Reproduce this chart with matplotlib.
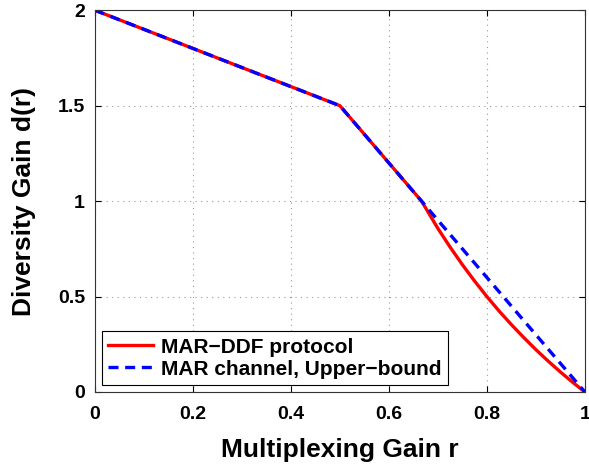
import numpy as np
import matplotlib.pyplot as plt

plt.rcParams['font.family'] = ['Liberation Sans', 'DejaVu Sans']
plt.rcParams['font.weight'] = 'bold'

# values
r_ddf = [0.0, 0.5, 0.6667, 0.70, 0.725, 0.75, 0.775, 0.80, 0.825, 0.85,
         0.875, 0.90, 0.925, 0.95, 0.975, 1.0]
d_ddf = [2.0, 1.5, 1.0, 0.857, 0.759, 0.667, 0.581, 0.5, 0.424, 0.353,
         0.286, 0.222, 0.162, 0.105, 0.051, 0.0]

r_upper = [0.0, 0.5, 0.6667, 1.0]
d_upper = [2.0, 1.5, 1.0, 0.0]

x_ticks = [0, 0.2, 0.4, 0.6, 0.8, 1]
x_ticklabels = ["0", "0.2", "0.4", "0.6", "0.8", "1"]
y_ticks = [0, 0.5, 1, 1.5, 2]
y_ticklabels = ["0", "0.5", "1", "1.5", "2"]

fig = plt.figure(figsize=(5.89, 4.65), dpi=100)
ax = fig.add_axes([0.161, 0.157, 0.832, 0.821])

ax.plot(r_ddf, d_ddf, color="red", linewidth=2.4, label="MAR\u2212DDF protocol")
ax.plot(r_upper, d_upper, color="blue", linewidth=2.4, linestyle=(0, (3, 2)),
        label="MAR channel, Upper\u2212bound")

ax.set_xlim(0, 1)
ax.set_ylim(0, 2)
ax.set_xticks(x_ticks)
ax.set_xticklabels(x_ticklabels)
ax.set_yticks(y_ticks)
ax.set_yticklabels(y_ticklabels)
ax.tick_params(direction="in", length=4, labelsize=14, top=True, right=True, pad=7)
ax.tick_params(axis="x", pad=10)
ax.grid(True, linestyle=(0, (1, 4)), color="#999999", linewidth=0.8)
for s in ax.spines.values():
    s.set_linewidth(0.8)
    s.set_color("#333333")

ax.set_xlabel("Multiplexing Gain r", fontsize=19, fontweight="bold", labelpad=11)
ax.set_ylabel("Diversity Gain d(r)", fontsize=19, fontweight="bold", labelpad=16)

leg = ax.legend(loc="lower left", fontsize=15, handlelength=2.15, fancybox=False,
                edgecolor="black", framealpha=1, borderaxespad=0.34,
                borderpad=0.3, labelspacing=0.15, handletextpad=0.4)
leg.get_frame().set_linewidth(0.8)

fig.savefig("out.png", dpi=100)
